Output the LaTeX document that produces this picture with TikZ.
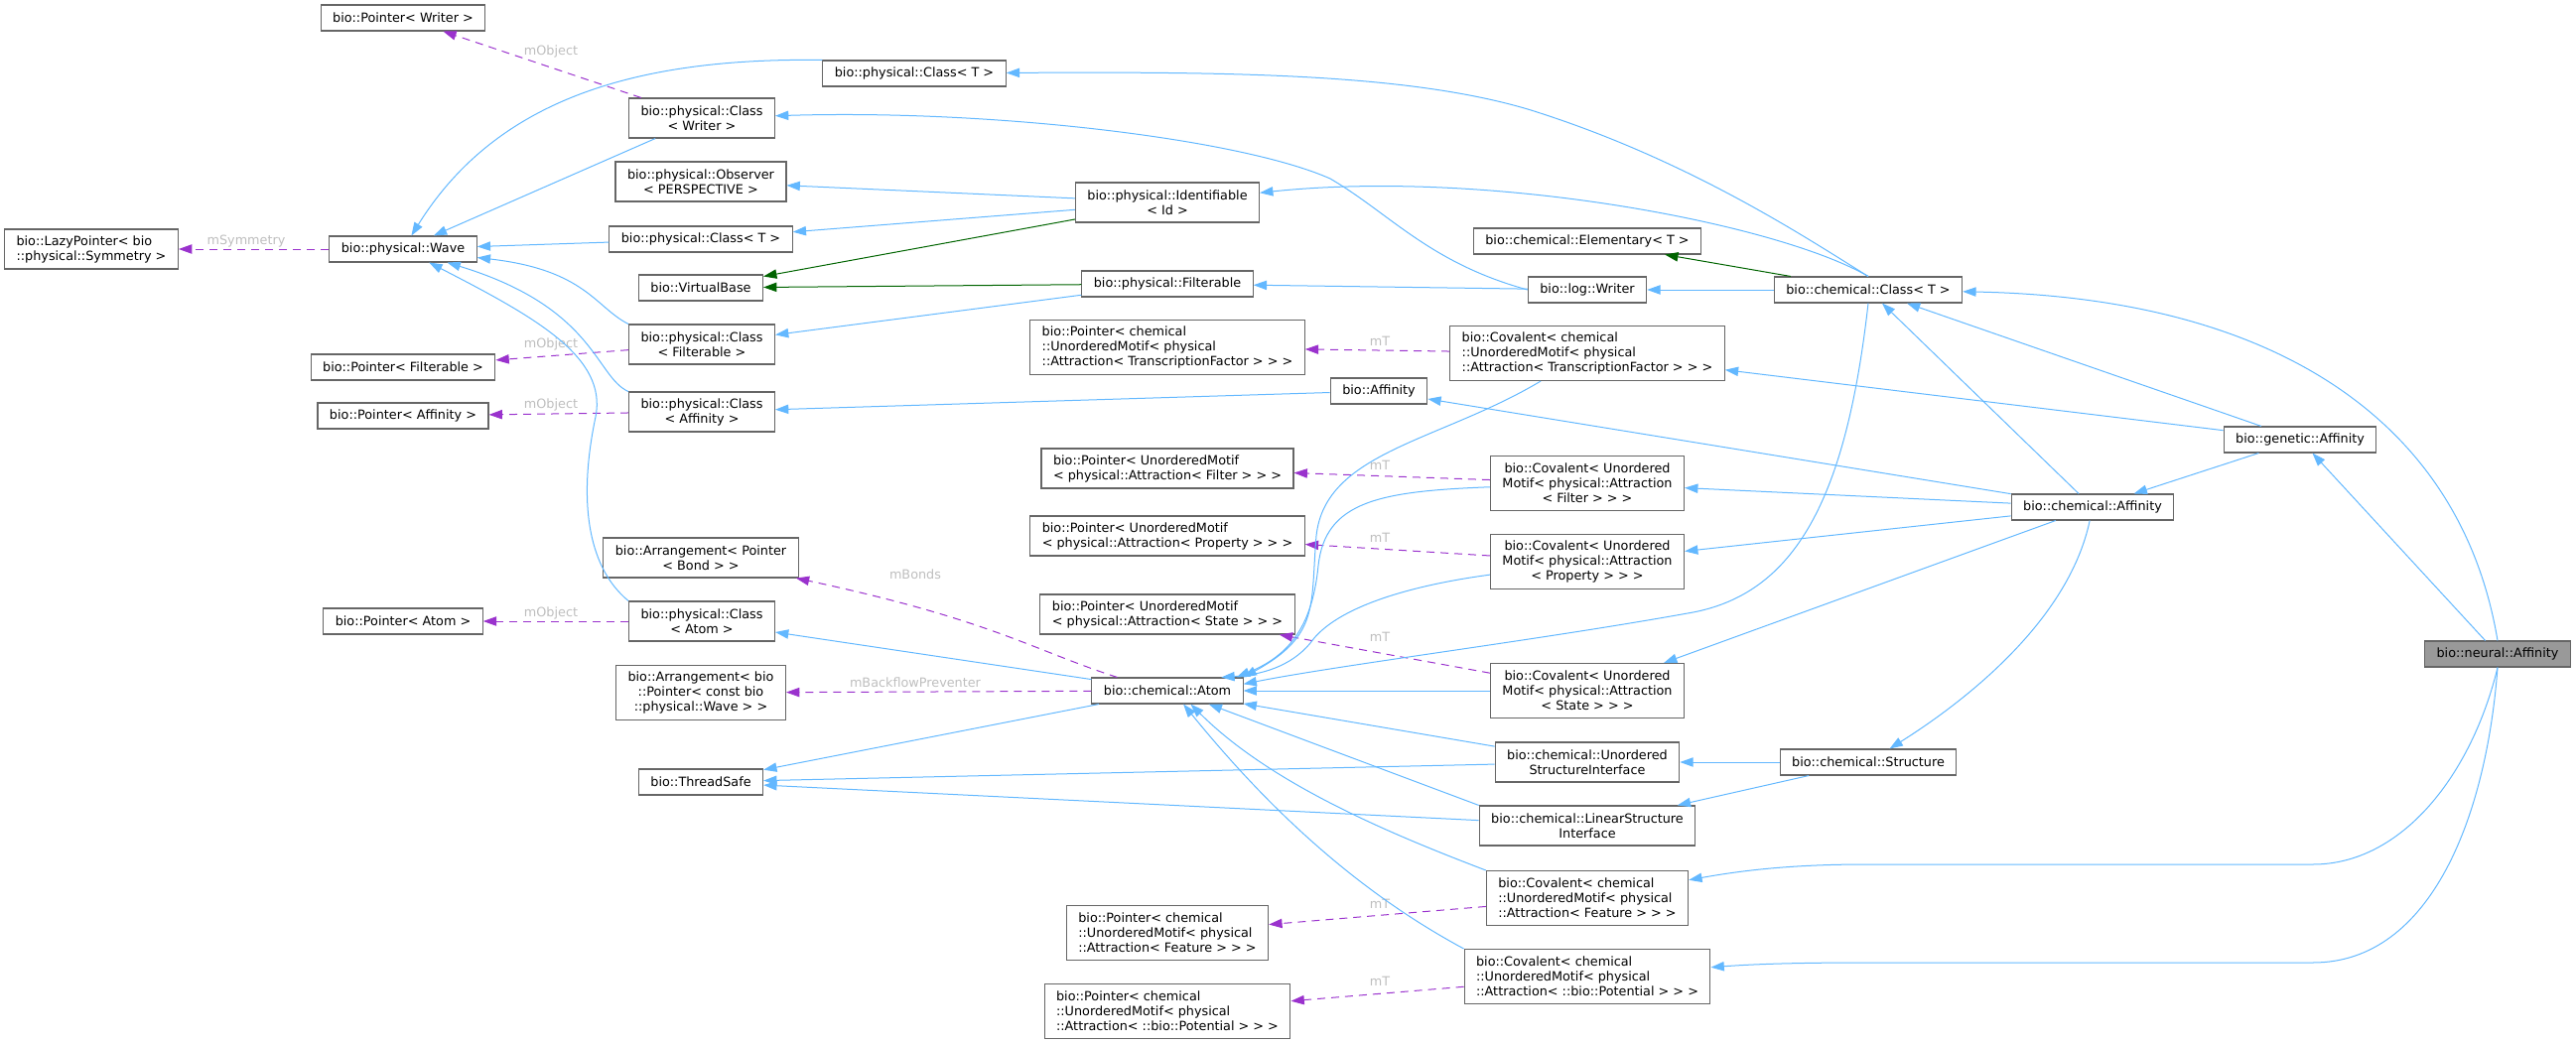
\documentclass[tikz,border=0pt]{standalone}
\usepackage{fontspec}
\setmainfont{DejaVu Sans}
\usetikzlibrary{arrows.meta}
\definecolor{edgeblue}{HTML}{63B8FF}
\definecolor{edgegreen}{HTML}{006400}
\definecolor{edgepurple}{HTML}{9A32CD}
\definecolor{boxgray}{HTML}{666666}
\definecolor{labelgray}{HTML}{BEBEBE}
\definecolor{focusgray}{HTML}{999999}

\begin{document}
\begin{tikzpicture}[x=0.75pt, y=-0.75pt,
	cls/.style={draw=boxgray, line width=0.8pt, fill=white, font=\fontsize{9.6}{11.25}\selectfont, inner xsep=9pt, inner ysep=0pt, minimum height=19.5pt},
	two/.style={cls, minimum height=30pt, align=center},
	three/.style={cls, minimum height=41.25pt, align=center},
	inh/.style={draw=edgeblue, line width=0.75pt, -{Triangle[length=10pt, width=7pt]}},
	prot/.style={draw=edgegreen, line width=0.75pt, -{Triangle[length=10pt, width=7pt]}},
	mem/.style={draw=edgepurple, line width=0.75pt, dash pattern=on 6pt off 4.5pt, -{Triangle[length=10pt, width=7pt]}},
	lbl/.style={text=labelgray, font=\fontsize{9.6}{11.25}\selectfont, inner sep=0pt}]
	\useasboundingbox (0,0) rectangle (2595,1052);
	% left columns
	\node[cls] (ptrWri) at (406,18) {bio::Pointer< Writer >};
	\node[cls] (wave) at (406,251) {bio::physical::Wave};
	\node[two, align=left] (lazy) at (92,251) {bio::LazyPointer< bio\\::physical::Symmetry >};
	\node[cls] (ptrFil) at (406,370) {bio::Pointer< Filterable >};
	\node[cls] (ptrAff) at (406,419) {bio::Pointer< Affinity >};
	\node[cls] (ptrAtm) at (406,626) {bio::Pointer< Atom >};
	\node[cls] (clsT0) at (921,74) {bio::physical::Class< T >};
	\node[two] (clsWri) at (707,119) {bio::physical::Class\\< Writer >};
	\node[two] (obs) at (706,183) {bio::physical::Observer\\< PERSPECTIVE >};
	\node[cls] (clsT1) at (706,241) {bio::physical::Class< T >};
	\node[cls] (vbase) at (706,290) {bio::VirtualBase};
	\node[two] (clsFil) at (707,347) {bio::physical::Class\\< Filterable >};
	\node[two] (clsAff) at (707,415) {bio::physical::Class\\< Affinity >};
	\node[two] (arrBnd) at (706,562) {bio::Arrangement< Pointer\\< Bond > >};
	\node[two] (clsAtm) at (707,626) {bio::physical::Class\\< Atom >};
	\node[three] (arrBk) at (706,698) {bio::Arrangement< bio\\::Pointer< const bio\\::physical::Wave > >};
	\node[cls] (thrS) at (706,788) {bio::ThreadSafe};
	% middle column
	\node[two] (ident) at (1176,204) {bio::physical::Identifiable\\< Id >};
	\node[cls] (filt) at (1176,286) {bio::physical::Filterable};
	\node[three, align=left] (ptrTF) at (1176,350) {bio::Pointer< chemical\\::UnorderedMotif< physical\\::Attraction< TranscriptionFactor > > >};
	\node[cls] (bioAff) at (1389,394) {bio::Affinity};
	\node[two, align=left] (ptrFlt) at (1176,472) {bio::Pointer< UnorderedMotif\\< physical::Attraction< Filter > > >};
	\node[two, align=left] (ptrPro) at (1176,540) {bio::Pointer< UnorderedMotif\\< physical::Attraction< Property > > >};
	\node[two, align=left] (ptrSta) at (1176,619) {bio::Pointer< UnorderedMotif\\< physical::Attraction< State > > >};
	\node[cls] (atom) at (1176,696) {bio::chemical::Atom};
	\node[three, align=left] (ptrFea) at (1176,940) {bio::Pointer< chemical\\::UnorderedMotif< physical\\::Attraction< Feature > > >};
	\node[three, align=left] (ptrPot) at (1176,1019) {bio::Pointer< chemical\\::UnorderedMotif< physical\\::Attraction< ::bio::Potential > > >};
	% right columns
	\node[cls] (elem) at (1599,243) {bio::chemical::Elementary< T >};
	\node[cls] (logW) at (1599,292) {bio::log::Writer};
	\node[three, align=left] (covTF) at (1599,356) {bio::Covalent< chemical\\::UnorderedMotif< physical\\::Attraction< TranscriptionFactor > > >};
	\node[three] (covFlt) at (1599,487) {bio::Covalent< Unordered\\Motif< physical::Attraction\\< Filter > > >};
	\node[three] (covPro) at (1599,566) {bio::Covalent< Unordered\\Motif< physical::Attraction\\< Property > > >};
	\node[three] (covSta) at (1599,696) {bio::Covalent< Unordered\\Motif< physical::Attraction\\< State > > >};
	\node[two] (unsI) at (1599,768) {bio::chemical::Unordered\\StructureInterface};
	\node[two] (linI) at (1599,832) {bio::chemical::LinearStructure\\Interface};
	\node[three, align=left] (covFea) at (1599,905) {bio::Covalent< chemical\\::UnorderedMotif< physical\\::Attraction< Feature > > >};
	\node[three, align=left] (covPot) at (1599,984) {bio::Covalent< chemical\\::UnorderedMotif< physical\\::Attraction< ::bio::Potential > > >};
	\node[cls] (chemCls) at (1882,292) {bio::chemical::Class< T >};
	\node[cls] (struct) at (1882,768) {bio::chemical::Structure};
	\node[cls] (chemAff) at (2108,511) {bio::chemical::Affinity};
	\node[cls] (genAff) at (2317,443) {bio::genetic::Affinity};
	\node[cls, fill=focusgray] (neuAff) at (2516,659) {bio::neural::Affinity};

	% members
	\draw[mem] (wave) -- (lazy);
	\node[lbl] (mSym) at (248,243) {mSymmetry};
	\foreach \c/\p/\y in {clsWri/ptrWri/52, clsFil/ptrFil/347, clsAff/ptrAff/408, clsAtm/ptrAtm/618}{
		\draw[mem] (\c) -- (\p);
		\node[lbl] (mObj\p) at (555,\y) {mObject};
	}
	\foreach \c/\p/\y in {covTF/ptrTF/344, covFlt/ptrFlt/469, covPro/ptrPro/542, covSta/ptrSta/642, covFea/ptrFea/911, covPot/ptrPot/989}{
		\draw[mem] (\c) -- (\p);
		\node[lbl] (mT\p) at (1390,\y) {mT};
	}
	\draw[mem] (atom.165) .. controls (1040,655) and (1000,625) .. (arrBnd);
	\node[lbl] (mBnd) at (922,579) {mBonds};
	\draw[mem] (atom) -- (arrBk);
	\node[lbl] (mBack) at (922,688) {mBackflowPreventer};

	% protected bases
	\draw[prot] (ident) -- (vbase);
	\draw[prot] (filt) -- (vbase);
	\draw[prot] (chemCls) -- (elem);

	% public bases
	\draw[inh] (clsT0.north west) .. controls (640,58) and (500,100) .. (wave);
	\draw[inh] (clsWri) -- (wave);
	\draw[inh] (clsT1) -- (wave);
	\draw[inh] (clsFil.north west) .. controls (600,310) and (590,272) .. (wave);
	\draw[inh] (clsAff.north west) .. controls (600,380) and (600,310) .. (wave);
	\draw[inh] (clsAtm.north west) .. controls (590,570) and (583,500) .. (600,420) .. controls (612,360) and (540,320) .. (wave);
	\draw[inh] (ident) -- (obs);
	\draw[inh] (ident) -- (clsT1);
	\draw[inh] (filt) -- (clsFil);
	\draw[inh] (logW) -- (filt);
	\draw[inh] (logW.west) .. controls (1440,265) and (1400,215) .. (1340,180) .. controls (1250,140) and (1000,110) .. (clsWri);
	\draw[inh] (bioAff) -- (clsAff);
	\draw[inh] (chemCls) -- (logW);
	\draw[inh] (chemCls.north) .. controls (1820,240) and (1700,160) .. (1539,110) .. controls (1420,75) and (1250,72) .. (clsT0);
	\draw[inh] (chemCls.north) .. controls (1790,225) and (1500,170) .. (ident);
	\draw[inh] (chemCls.south) .. controls (1860,500) and (1810,600) .. (1700,618) .. controls (1550,645) and (1350,670) .. (atom.5);
	\draw[inh] (covTF) .. controls (1450,445) and (1335,455) .. (1326,540) .. controls (1320,610) and (1330,640) .. (atom.north east);
	\draw[inh] (covFlt) .. controls (1390,495) and (1335,505) .. (1328,570) .. controls (1322,630) and (1300,660) .. (atom.11);
	\draw[inh] (covPro) .. controls (1420,590) and (1345,612) .. (1320,648) .. controls (1300,672) and (1270,680) .. (atom.14);
	\draw[inh] (covSta) -- (atom);
	\draw[inh] (unsI) -- (atom);
	\draw[inh] (linI.north west) -- (atom.-18);
	\draw[inh] (covFea.north west) .. controls (1400,840) and (1280,790) .. (atom.-30);
	\draw[inh] (covPot.north west) .. controls (1380,905) and (1290,830) .. (atom.-40);
	\draw[inh] (atom) -- (clsAtm);
	\draw[inh] (atom) -- (thrS);
	\draw[inh] (unsI) -- (thrS);
	\draw[inh] (linI) -- (thrS);
	\draw[inh] (struct) -- (unsI);
	\draw[inh] (struct) -- (linI);
	\draw[inh] (chemAff) -- (bioAff);
	\draw[inh] (chemAff) -- (chemCls);
	\draw[inh] (chemAff) -- (covFlt);
	\draw[inh] (chemAff) -- (covPro);
	\draw[inh] (chemAff) -- (covSta);
	\draw[inh] (chemAff) .. controls (2085,620) and (1990,700) .. (struct);
	\draw[inh] (genAff) -- (chemCls);
	\draw[inh] (genAff) -- (covTF);
	\draw[inh] (genAff) -- (chemAff);
	\draw[inh] (neuAff) -- (genAff);
	\draw[inh] (neuAff.north) .. controls (2480,430) and (2300,300) .. (chemCls);
	\draw[inh] (neuAff.south) .. controls (2490,780) and (2420,871) .. (2330,871) -- (1880,871) .. controls (1800,871) and (1750,878) .. (covFea);
	\draw[inh] (neuAff.south) .. controls (2505,820) and (2450,970) .. (2330,970) -- (1880,970) .. controls (1800,970) and (1760,972) .. (covPot);
\end{tikzpicture}
\end{document}
